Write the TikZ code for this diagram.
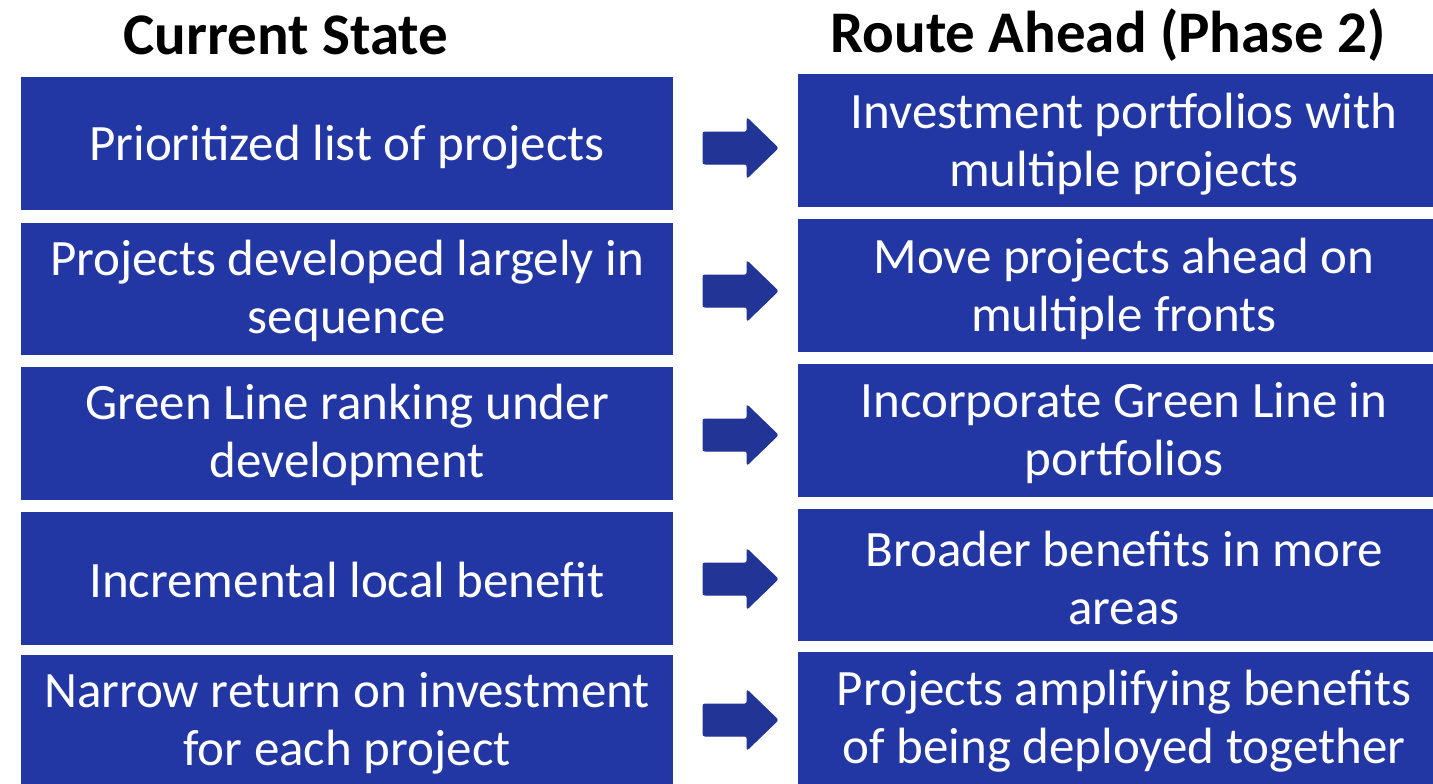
\documentclass[tikz,border=0pt]{standalone}
\usepackage{fontspec}
\setmainfont{Carlito}
\definecolor{boxblue}{RGB}{34,54,164}
\definecolor{arrowblue}{RGB}{34,52,150}
\tikzset{
  cell/.style={draw=none, text=white, align=center, inner sep=0pt, font=\fontsize{51}{58}\selectfont},
  heading/.style={text=black, font=\bfseries\fontsize{59}{66}\selectfont},
  blockarrow/.style={fill=arrowblue, draw=arrowblue, line width=1pt, rounded corners=2pt}
}
\begin{document}
\begin{tikzpicture}[x=1pt,y=-1pt]
\useasboundingbox (0,0) rectangle (1433,784);
\fill[white] (0,0) rectangle (1433,784);
\node[heading] (h1) at (286,35) {Current State};
\node[heading] (h2) at (1108,35) {Route Ahead (Phase 2)};
% left boxes
\fill[boxblue] (21,77) rectangle (673,210);
\fill[boxblue] (21,223) rectangle (673,355);
\fill[boxblue] (21,367) rectangle (673,500);
\fill[boxblue] (21,512) rectangle (673,645);
\fill[boxblue] (21,655) rectangle (673,784);
% right boxes
\fill[boxblue] (798,74) rectangle (1433,207);
\fill[boxblue] (798,219) rectangle (1433,352);
\fill[boxblue] (798,364) rectangle (1433,497);
\fill[boxblue] (798,509) rectangle (1433,641);
\fill[boxblue] (798,652) rectangle (1433,784);
% left texts
\node[cell] (l1) at (347,147) {Prioritized list of projects};
\node[cell] (l2) at (347,291) {Projects developed largely in\\sequence};
\node[cell] (l3) at (347,435) {Green Line ranking under\\development};
\node[cell] (l4) at (347,580) {Incremental local benefit};
\node[cell] (l5) at (347,723) {Narrow return on investment\\for each project};
% right texts
\node[cell] (r1) at (1124,144) {Investment portfolios with\\multiple projects};
\node[cell] (r2) at (1124,289) {Move projects ahead on\\multiple fronts};
\node[cell] (r3) at (1124,433) {Incorporate Green Line in\\portfolios};
\node[cell] (r4) at (1124,578) {Broader benefits in more\\areas};
\node[cell] (r5) at (1124,721) {Projects amplifying benefits\\of being deployed together};
% arrows
\foreach \y in {148,291,435,579,720}{
  \draw[blockarrow] (703,\y-16) -- (747,\y-16) -- (747,\y-30) -- (778,\y) -- (747,\y+30) -- (747,\y+16) -- (703,\y+16) -- cycle;
}
\end{tikzpicture}
\end{document}
